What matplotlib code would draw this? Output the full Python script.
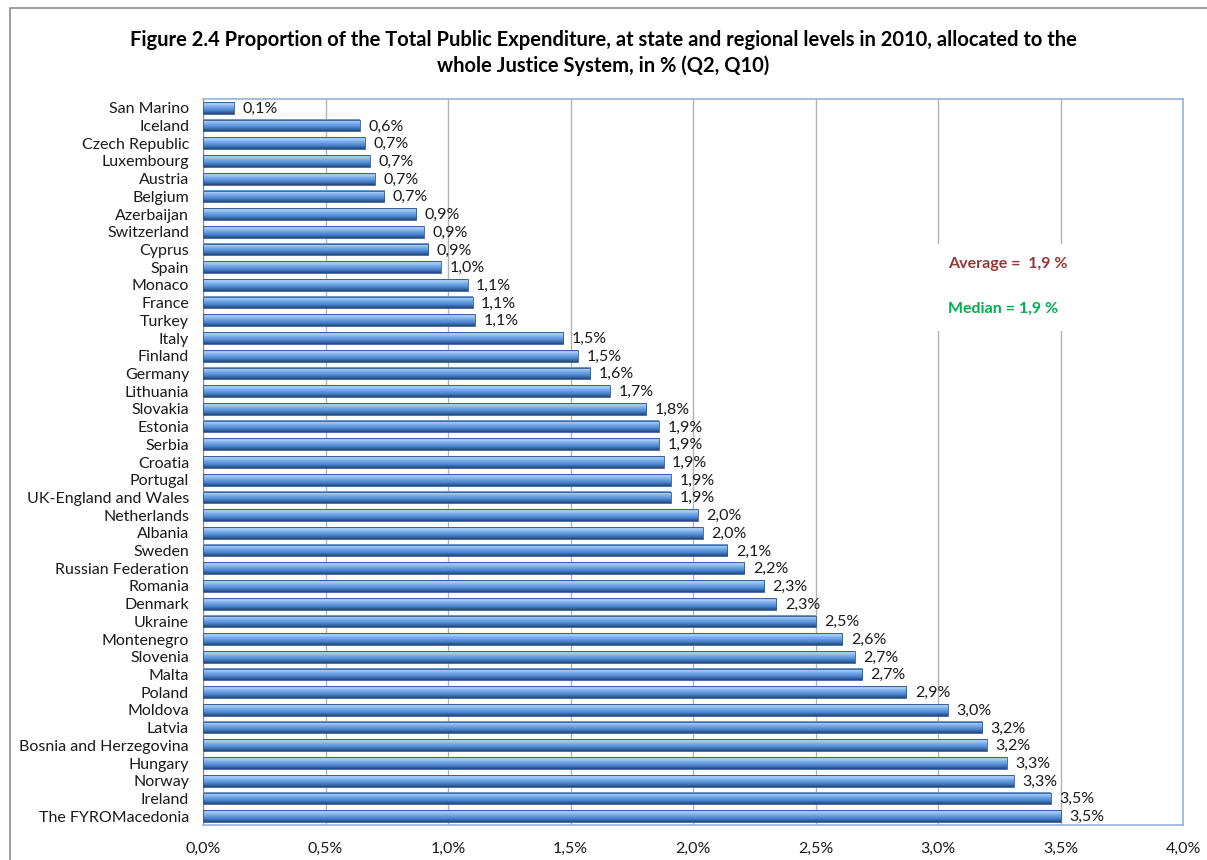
import matplotlib.pyplot as plt
import numpy as np
from matplotlib.colors import LinearSegmentedColormap
from matplotlib.patches import Rectangle

countries = ["San Marino", "Iceland", "Czech Republic", "Luxembourg", "Austria",
             "Belgium", "Azerbaijan", "Switzerland", "Cyprus", "Spain", "Monaco",
             "France", "Turkey", "Italy", "Finland", "Germany", "Lithuania",
             "Slovakia", "Estonia", "Serbia", "Croatia", "Portugal",
             "UK-England and Wales", "Netherlands", "Albania", "Sweden",
             "Russian Federation", "Romania", "Denmark", "Ukraine", "Montenegro",
             "Slovenia", "Malta", "Poland", "Moldova", "Latvia",
             "Bosnia and Herzegovina", "Hungary", "Norway", "Ireland",
             "The FYROMacedonia"]
values = [0.126, 0.64, 0.66, 0.68, 0.70, 0.74, 0.87, 0.90, 0.92, 0.97, 1.08,
          1.10, 1.11, 1.47, 1.53, 1.58, 1.66, 1.81, 1.86, 1.86, 1.88, 1.91,
          1.91, 2.02, 2.04, 2.14, 2.21, 2.29, 2.34, 2.50, 2.61, 2.66, 2.69,
          2.87, 3.04, 3.18, 3.20, 3.28, 3.31, 3.46, 3.50]
xticks = [0.0, 0.5, 1.0, 1.5, 2.0, 2.5, 3.0, 3.5, 4.0]
average_text = "Average =  1,9 %"
median_text = "Median = 1,9 %"

plt.rcParams['font.family'] = ['Lato', 'DejaVu Sans']
fs = 11.5

fig = plt.figure(figsize=(12.07, 8.6), dpi=100)
ax = fig.add_axes([203 / 1207, 1 - 825 / 860, 980 / 1207, 726 / 860])

# outer chart border
fig.add_artist(Rectangle((10 / 1207, -0.05), 1.2, 1 - 8 / 860 + 0.05,
                         transform=fig.transFigure, fill=False,
                         ec='#8c8c8c', lw=1.2))

bar_cmap = LinearSegmentedColormap.from_list(
    'bar3d', [(0.0, '#4a7cc0'), (0.12, '#b4d3f7'), (0.35, '#7eb0ec'),
              (0.7, '#4a84cf'), (1.0, '#24467a')])
grad = np.linspace(0, 1, 64).reshape(-1, 1)

n = len(countries)
ypos = np.arange(n)
h = 0.66
for y, v in zip(ypos, values):
    ax.imshow(grad, cmap=bar_cmap, extent=(0, v, y + h / 2, y - h / 2),
              origin='upper', aspect='auto', interpolation='bilinear', zorder=3)
ax.barh(ypos, values, height=h, facecolor='none', edgecolor='#2f5a94',
        linewidth=0.6, zorder=4)

for y, v in zip(ypos, values):
    lbl = ('%.1f' % v).replace('.', ',') + '%'
    ax.text(v + 0.035, y + 0.05, lbl, va='center', ha='left', fontsize=fs,
            color='#1a1a1a', zorder=5)

ax.set_xlim(0, 4.0)
ax.set_ylim(n - 0.5, -0.5)
ax.set_aspect('auto')
ax.set_xticks(xticks)
ax.set_xticklabels([('%.1f' % t).replace('.', ',') + '%' for t in xticks],
                   fontsize=fs)
ax.set_yticks(ypos)
ax.set_yticklabels(countries, fontsize=fs)
ax.tick_params(axis='both', length=0, colors='#1a1a1a')
ax.tick_params(axis='x', pad=12)
ax.tick_params(axis='y', pad=10)
ax.xaxis.grid(True, color='#b3b3b3', linewidth=1.0, zorder=0)
ax.set_axisbelow(True)

for side in ['top', 'right', 'bottom']:
    ax.spines[side].set_color('#95b3d7')
    ax.spines[side].set_linewidth(1.2)
ax.spines['left'].set_color('#8c8c8c')

# white box with average / median
ax.add_patch(Rectangle((2.98, 7.7), 0.62, 4.9, facecolor='white',
                       edgecolor='none', zorder=2))
ax.text(3.04, 8.8, average_text, color='#953735', fontsize=fs,
        fontweight='bold', va='center', ha='left', zorder=5)
ax.text(3.04, 11.36, median_text, color='#00b050', fontsize=fs,
        fontweight='bold', va='center', ha='left', zorder=5)

fig.text(0.5, 1 - 40 / 860,
         "Figure 2.4 Proportion of the Total Public Expenditure, at state and regional levels in 2010, allocated to the",
         ha='center', va='center', fontsize=14.5, fontweight='bold')
fig.text(0.5, 1 - 66 / 860, "whole Justice System, in % (Q2, Q10)",
         ha='center', va='center', fontsize=14.5, fontweight='bold')

fig.savefig('out.png', dpi=100)
